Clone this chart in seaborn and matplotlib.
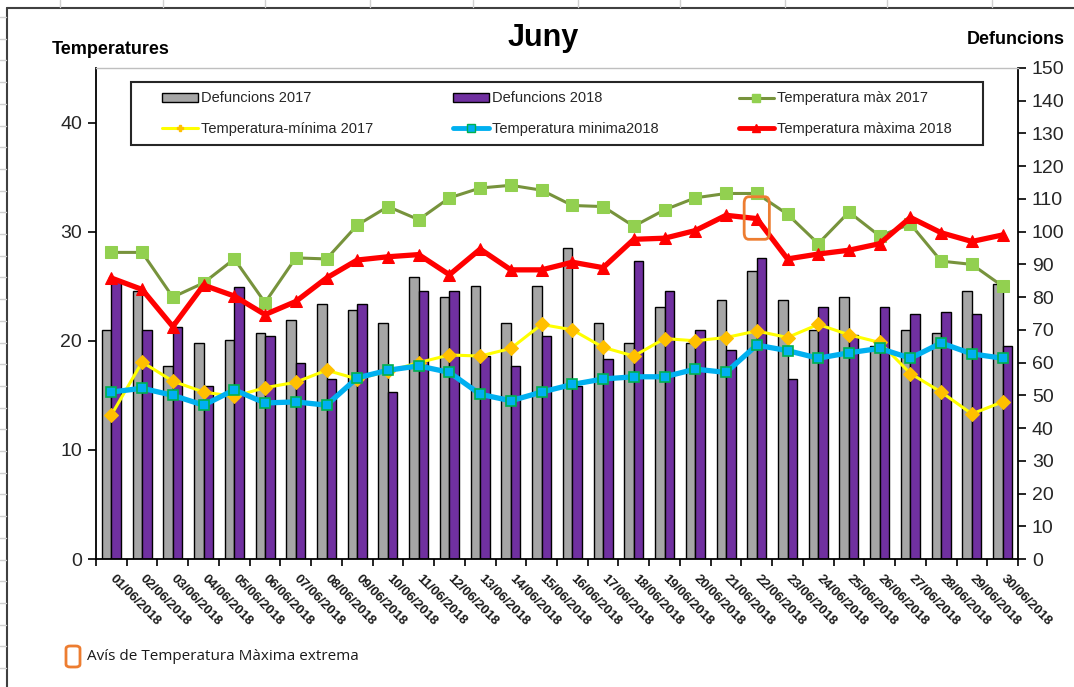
import numpy as np
import pandas as pd
import matplotlib
matplotlib.use("Agg")
import matplotlib.pyplot as plt
import seaborn as sns
from matplotlib.patches import FancyBboxPatch, Patch, Rectangle
from matplotlib.lines import Line2D

# ---------------- data ----------------
dates = [f"{d:02d}/06/2018" for d in range(1, 31)]

def_2017 = [70, 82, 59, 66, 67, 69, 73, 78, 76, 72, 86, 80, 83.5, 72, 83.5,
            95, 72, 66, 77, 66, 79, 88, 79, 70, 80, 65, 70, 69, 82, 84]
def_2018 = [85, 70, 71, 53, 83, 68, 60, 55, 78, 51, 82, 82, 62, 59, 68,
            53, 61, 91, 82, 70, 64, 92, 55, 77, 68.5, 77, 75, 75.5, 75, 65]

tmax_2017 = [28.1, 28.1, 24.0, 25.3, 27.5, 23.5, 27.6, 27.5, 30.6, 32.3, 31.1, 33.1,
             34.0, 34.25, 33.8, 32.4, 32.3, 30.5, 32.0, 33.1, 33.5, 33.5, 31.6, 28.9,
             31.8, 29.6, 30.7, 27.3, 27.0, 25.0]
tmax_2018 = [25.75, 24.7, 21.3, 25.1, 24.1, 22.4, 23.6, 25.75, 27.4, 27.7, 27.9, 26.05,
             28.4, 26.5, 26.5, 27.2, 26.7, 29.3, 29.4, 30.1, 31.5, 31.2, 27.5, 27.95,
             28.3, 28.9, 31.3, 29.9, 29.1, 29.7]
tmin_2017 = [13.2, 18.05, 16.3, 15.3, 14.9, 15.7, 16.2, 17.3, 16.5, 17.2, 18.0, 18.7,
             18.6, 19.3, 21.5, 21.0, 19.4, 18.6, 20.2, 20.0, 20.3, 20.9, 20.3, 21.5,
             20.55, 19.85, 17.0, 15.3, 13.3, 14.4]
tmin_2018 = [15.3, 15.65, 15.0, 14.1, 15.5, 14.3, 14.4, 14.1, 16.6, 17.3, 17.7, 17.1,
             15.1, 14.5, 15.3, 16.0, 16.5, 16.7, 16.7, 17.4, 17.1, 19.6, 19.1, 18.4,
             18.9, 19.3, 18.4, 19.8, 18.8, 18.4]

warning_days = ["22/06/2018"]

left_ticks = [0, 10, 20, 30, 40]
right_ticks = list(range(0, 151, 10))

# ---------------- style ----------------
sns.set_theme(style="white")
plt.rcParams['font.family'] = ['Liberation Sans', 'DejaVu Sans']

C_GREY = "#A6A6A6"
C_PURPLE = "#7030A0"
C_OLIVE = "#77933C"
C_LGREEN = "#92D050"
C_YELLOW = "#FFFF00"
C_GOLD = "#FFC000"
C_BLUE = "#00B0F0"
C_TEAL = "#00B050"
C_RED = "#FF0000"
C_ORANGE = "#ED7D31"

W, H = 1074, 687
fig = plt.figure(figsize=(W / 100, H / 100), dpi=100)
fig.patch.set_facecolor("white")

x0, x1, yb, yt = 96, 1018, 559, 68
ax = fig.add_axes([x0 / W, 1 - yb / H, (x1 - x0) / W, (yb - yt) / H])

# bars (deaths) on the base axes
df = pd.DataFrame({
    "dia": dates * 2,
    "valor": def_2017 + def_2018,
    "serie": ["Defuncions 2017"] * len(dates) + ["Defuncions 2018"] * len(dates),
})
sns.barplot(data=df, x="dia", y="valor", hue="serie", order=dates,
            palette=[C_GREY, C_PURPLE], width=0.62, edgecolor="black",
            linewidth=1.0, ax=ax, legend=False, saturation=1)
ax.set_ylim(0, 150)
ax.set_xlim(-0.5, len(dates) - 0.5)
ax.set_xlabel("")
ax.set_ylabel("")

ax2 = ax.twinx()
ax.yaxis.tick_right()
ax2.yaxis.tick_left()
ax.set_yticks(right_ticks)
ax.set_yticklabels([str(t) for t in right_ticks])

xs = np.arange(len(dates))
sns.lineplot(x=xs, y=tmax_2017, ax=ax2, color=C_OLIVE, lw=2.2, marker="s",
             markersize=8, markerfacecolor=C_LGREEN, markeredgecolor=C_LGREEN)
sns.lineplot(x=xs, y=tmin_2017, ax=ax2, color=C_YELLOW, lw=2.2, marker="D",
             markersize=7.5, markerfacecolor=C_GOLD, markeredgecolor=C_GOLD)
sns.lineplot(x=xs, y=tmin_2018, ax=ax2, color=C_BLUE, lw=3.8, marker="s",
             markersize=7, markerfacecolor=C_BLUE, markeredgecolor=C_TEAL,
             markeredgewidth=1.2)
sns.lineplot(x=xs, y=tmax_2018, ax=ax2, color=C_RED, lw=3.8, marker="^",
             markersize=8.5, markerfacecolor=C_RED, markeredgecolor=C_RED)
ax2.set_ylim(0, 45)
ax2.set_xlim(-0.5, len(dates) - 0.5)
ax2.set_yticks(left_ticks)
ax2.set_yticklabels([str(t) for t in left_ticks])

# warning box around extreme max temperature day(s)
for d in warning_days:
    i = dates.index(d)
    bw, bh = 0.82, 3.9
    ax2.add_patch(FancyBboxPatch((i - bw / 2, tmax_2018[i] - bh / 2 + 0.05), bw, bh,
                                 boxstyle="round,pad=0,rounding_size=0.15",
                                 fill=False, edgecolor=C_ORANGE, lw=2,
                                 mutation_aspect=4, zorder=10))

# axes cosmetics
for a in (ax, ax2):
    for s in a.spines.values():
        s.set_visible(False)
for side in ("left", "right", "bottom"):
    ax.spines[side].set_visible(True)
    ax.spines[side].set_color("black")
    ax.spines[side].set_linewidth(1.3)
ax.spines["top"].set_visible(True)
ax.spines["top"].set_color("#BFBFBF")
ax.spines["top"].set_linewidth(1.0)

ax.tick_params(axis="y", which="major", direction="out", length=6, width=1.2,
               color="black", labelsize=14, labelcolor="#262626", pad=4,
               right=True, left=False, labelright=True, labelleft=False)
ax2.tick_params(axis="y", which="major", direction="out", length=6, width=1.2,
                color="black", labelsize=14, labelcolor="#262626", pad=4,
                left=True, right=False, labelleft=True, labelright=False)

ax.set_xticks(xs)
ax.set_xticklabels(dates, rotation=-45, ha="left", va="center",
                   rotation_mode="anchor", fontsize=9.5, fontweight="bold",
                   color="#1a1a1a")
ax.set_xticks(np.arange(-0.5, len(dates), 1), minor=True)
ax.tick_params(axis="x", which="major", length=0, pad=13)
ax.tick_params(axis="x", which="minor", direction="out", length=5, width=1.2,
               color="black", bottom=True)
ax2.tick_params(axis="x", which="both", length=0, labelbottom=False)
ax.grid(False)
ax2.grid(False)

# legend with separate frame
lx0, lx1, lyt, lyb = 131, 983, 82, 145
frame = Rectangle((lx0 / W, 1 - lyb / H), (lx1 - lx0) / W, (lyb - lyt) / H,
                  transform=fig.transFigure, fill=True, facecolor="white",
                  edgecolor="#262626", lw=1.5, zorder=20)
fig.patches.append(frame)

handles = [
    Patch(facecolor=C_GREY, edgecolor="black", lw=1),
    Line2D([], [], color=C_YELLOW, lw=2.2, marker="P", markersize=5,
           markerfacecolor=C_GOLD, markeredgecolor=C_GOLD),
    Patch(facecolor=C_PURPLE, edgecolor="black", lw=1),
    Line2D([], [], color=C_BLUE, lw=3.5, marker="s", markersize=6,
           markerfacecolor=C_BLUE, markeredgecolor=C_TEAL),
    Line2D([], [], color=C_OLIVE, lw=2.2, marker="s", markersize=6,
           markerfacecolor=C_LGREEN, markeredgecolor=C_LGREEN),
    Line2D([], [], color=C_RED, lw=3.5, marker="^", markersize=6,
           markerfacecolor=C_RED, markeredgecolor=C_RED),
]
labels = ["Defuncions 2017", "Temperatura-mínima 2017", "Defuncions 2018",
          "Temperatura minima2018", "Temperatura màx 2017", "Temperatura màxima 2018"]
leg = fig.legend(handles, labels, ncol=3, loc="center",
                 bbox_to_anchor=((lx0 + lx1) / 2 / W, 1 - (lyt + lyb) / 2 / H),
                 bbox_transform=fig.transFigure, frameon=False, fontsize=10.5,
                 handlelength=2.45, handleheight=0.55, handletextpad=0.2,
                 columnspacing=5.5, labelspacing=1.1)
leg.set_zorder(21)

# titles
fig.text(543 / W, 1 - 38 / H, "Juny", ha="center", va="center",
         fontsize=22, fontweight="bold", color="black")
fig.text(52 / W, 1 - 49 / H, "Temperatures", ha="left", va="center",
         fontsize=13, fontweight="bold", color="black")
fig.text(1065 / W, 1 - 40 / H, "Defuncions", ha="right", va="center",
         fontsize=13, fontweight="bold", color="black")

# bottom note for warning box
fig.patches.append(FancyBboxPatch((66 / W, 1 - 667 / H), 14 / W, 21 / H,
                                  boxstyle="round,pad=0,rounding_size=0.004",
                                  transform=fig.transFigure, fill=False,
                                  edgecolor=C_ORANGE, lw=2))
fig.text(87 / W, 1 - 657 / H, "Avís de Temperatura Màxima extrema",
         ha="left", va="center", fontsize=11, color="#1a1a1a",
         family=["Open Sans", "DejaVu Sans"])

# chart-area frame and faint spreadsheet grid
fig.add_artist(Line2D([7 / W, 1], [1 - 8 / H, 1 - 8 / H], transform=fig.transFigure,
                      color="#404040", lw=1.5))
fig.add_artist(Line2D([7 / W, 7 / W], [0, 1 - 8 / H], transform=fig.transFigure,
                      color="#404040", lw=1.5))
for gx in [60, 163, 265, 370, 473, 578, 680, 785, 887, 992]:
    fig.add_artist(Line2D([gx / W, gx / W], [1 - 7 / H, 1], transform=fig.transFigure,
                          color="#D0D0D0", lw=1))
for gy in np.arange(17, H, 21.7):
    fig.add_artist(Line2D([0, 6 / W], [1 - gy / H, 1 - gy / H], transform=fig.transFigure,
                          color="#D0D0D0", lw=1))

fig.savefig("out.png", dpi=100, facecolor="white")
